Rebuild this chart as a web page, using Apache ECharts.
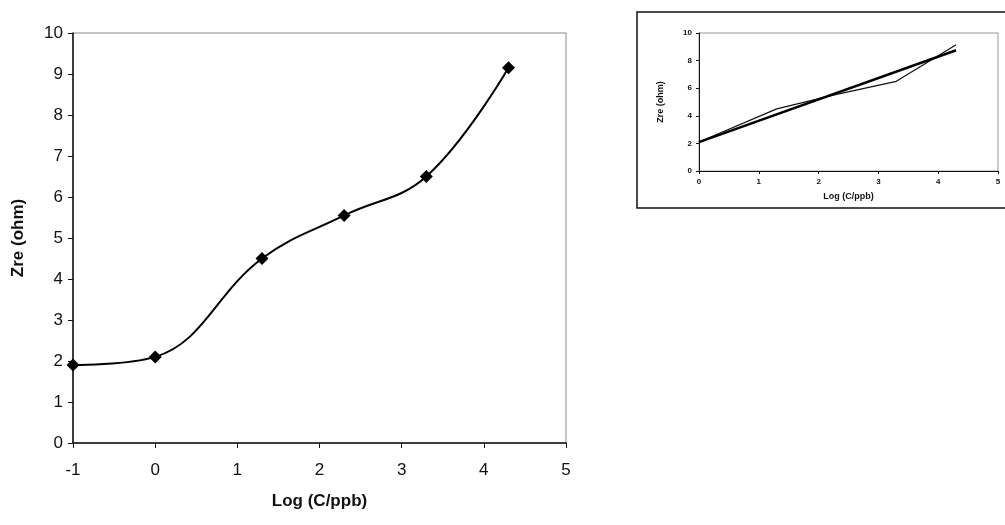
<!DOCTYPE html>
<html>
<head>
<meta charset="utf-8">
<script src="https://cdn.jsdelivr.net/npm/echarts@6/dist/echarts.min.js"></script>
<style>
  html, body { margin: 0; padding: 0; background: #fff; }
  #chart { width: 1005px; height: 525px; }
</style>
</head>
<body>
<div id="chart"></div>
<script>
// measured points, Log (C/ppb) vs Zre (ohm)
var logC = [-1, 0, 1.3, 2.3, 3.3, 4.3];
var zre = [1.9, 2.1, 4.5, 5.55, 6.5, 9.15];

// inset: data without the -1 point, plus the straight fit line
var insetLogC = [0, 1.3, 2.3, 3.3, 4.3];
var insetZre = [2.1, 4.5, 5.55, 6.5, 9.15];
var fitLogC = [0, 4.3];
var fitZre = [2.1, 8.75];

function pairs(xs, ys) {
    return xs.map(function (x, i) { return [x, ys[i]]; });
}

var myChart = echarts.init(document.getElementById('chart'));

var font = 'Liberation Sans, Arial, sans-serif';

var option = {
    backgroundColor: '#fff',
    animation: false,
    graphic: [{
        type: 'rect',
        shape: { x: 637, y: 12, width: 372, height: 196 },
        style: { fill: 'none', stroke: '#111', lineWidth: 1.5 },
        z: 0
    }],
    grid: [
        { left: 73, right: 439, top: 33, bottom: 82, show: true, borderColor: '#888', borderWidth: 1 },
        { left: 699, right: 7, top: 33, bottom: 354, show: true, borderColor: '#999', borderWidth: 1 }
    ],
    xAxis: [{
        gridIndex: 0,
        type: 'value',
        min: -1, max: 5, interval: 1,
        name: 'Log (C/ppb)',
        nameLocation: 'middle',
        nameGap: 50,
        nameTextStyle: { fontFamily: font, fontSize: 17, fontWeight: 'bold', color: '#111' },
        axisLine: { onZero: false, lineStyle: { color: '#111', width: 1.5 } },
        axisTick: { show: true, length: 5, lineStyle: { color: '#111' } },
        axisLabel: { fontFamily: font, fontSize: 17, color: '#111', margin: 19 },
        splitLine: { show: false }
    }, {
        gridIndex: 1,
        type: 'value',
        min: 0, max: 5, interval: 1,
        name: 'Log (C/ppb)',
        nameLocation: 'middle',
        nameGap: 21,
        nameTextStyle: { fontFamily: font, fontSize: 9, fontWeight: 'bold', color: '#111' },
        axisLine: { onZero: false, lineStyle: { color: '#111', width: 1 } },
        axisTick: { show: true, length: 3, lineStyle: { color: '#111' } },
        axisLabel: { fontFamily: font, fontSize: 8, fontWeight: 'bold', color: '#111', margin: 7 },
        splitLine: { show: false }
    }],
    yAxis: [{
        gridIndex: 0,
        type: 'value',
        min: 0, max: 10, interval: 1,
        name: 'Zre (ohm)',
        nameLocation: 'middle',
        nameGap: 46,
        nameTextStyle: { fontFamily: font, fontSize: 17, fontWeight: 'bold', color: '#111' },
        axisLine: { show: true, onZero: false, lineStyle: { color: '#111', width: 1.5 } },
        axisTick: { show: true, length: 5, lineStyle: { color: '#111' } },
        axisLabel: { fontFamily: font, fontSize: 17, color: '#111', margin: 10 },
        splitLine: { show: false }
    }, {
        gridIndex: 1,
        type: 'value',
        min: 0, max: 10, interval: 2,
        name: 'Zre (ohm)',
        nameLocation: 'middle',
        nameGap: 34,
        nameTextStyle: { fontFamily: font, fontSize: 9, fontWeight: 'bold', color: '#111' },
        axisLine: { show: true, onZero: false, lineStyle: { color: '#111', width: 1 } },
        axisTick: { show: true, length: 3, lineStyle: { color: '#111' } },
        axisLabel: { fontFamily: font, fontSize: 8, fontWeight: 'bold', color: '#111', margin: 7 },
        splitLine: { show: false }
    }],
    series: [{
        type: 'line',
        xAxisIndex: 0, yAxisIndex: 0,
        data: pairs(logC, zre),
        smooth: 0.4,
        symbol: 'diamond',
        symbolSize: 13,
        itemStyle: { color: '#000' },
        lineStyle: { color: '#000', width: 2 }
    }, {
        type: 'line',
        xAxisIndex: 1, yAxisIndex: 1,
        data: pairs(insetLogC, insetZre),
        symbol: 'none',
        lineStyle: { color: '#111', width: 1.2 }
    }, {
        type: 'line',
        xAxisIndex: 1, yAxisIndex: 1,
        data: pairs(fitLogC, fitZre),
        symbol: 'none',
        lineStyle: { color: '#000', width: 2.4 }
    }]
};

myChart.setOption(option);
</script>
</body>
</html>
